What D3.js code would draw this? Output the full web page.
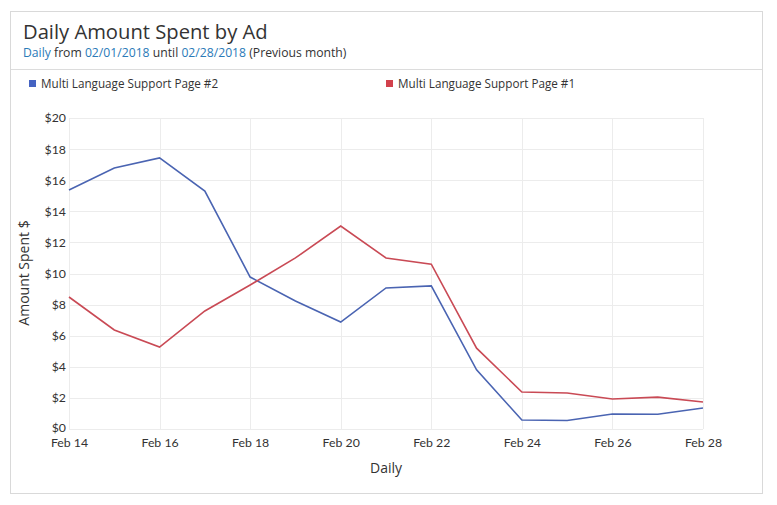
<!DOCTYPE html>
<html><head><meta charset="utf-8">
<script src="https://cdn.jsdelivr.net/npm/d3@7"></script>
<style>
body{margin:0;background:#fff;}
svg{display:block;}
</style></head>
<body>
<svg id="chart" width="777" height="505"></svg>
<script>
const days = ["2018-02-14","2018-02-15","2018-02-16","2018-02-17","2018-02-18","2018-02-19","2018-02-20","2018-02-21","2018-02-22","2018-02-23","2018-02-24","2018-02-25","2018-02-26","2018-02-27","2018-02-28"];
const page2 = [15.37,16.78,17.43,15.3,9.77,8.23,6.88,9.07,9.2,3.8,0.58,0.55,0.96,0.95,1.35];
const page1 = [8.49,6.37,5.27,7.59,9.26,11.0,13.05,11.0,10.6,5.2,2.38,2.32,1.93,2.05,1.74];
const seriesNames = ["Multi Language Support Page #2","Multi Language Support Page #1"];
const yTicks = [0,2,4,6,8,10,12,14,16,18,20];
const xTickDays = ["2018-02-14","2018-02-16","2018-02-18","2018-02-20","2018-02-22","2018-02-24","2018-02-26","2018-02-28"];

const colors = ["#4a64b2","#c94a55"];
const legendColors = ["#4563c2","#d2414c"];
const parse = d3.timeParse("%Y-%m-%d");
const svg = d3.select("#chart");

// card
svg.append("rect").attr("x",10.5).attr("y",11.5).attr("width",752).attr("height",482)
  .attr("fill","#fff").attr("stroke","#d9d9d9");
svg.append("line").attr("x1",11).attr("x2",762).attr("y1",69.5).attr("y2",69.5).attr("stroke","#dcdcdc");

svg.append("text").attr("x",23).attr("y",39).attr("font-family","Open Sans").attr("font-size",20.2)
  .attr("fill","#333").text("Daily Amount Spent by Ad");
const sub = svg.append("text").attr("x",23).attr("y",57).attr("font-family","Open Sans").attr("font-size",12.2).attr("fill","#333");
sub.append("tspan").attr("fill","#2a7ab8").text("Daily");
sub.append("tspan").text(" from ");
sub.append("tspan").attr("fill","#2a7ab8").text("02/01/2018");
sub.append("tspan").text(" until ");
sub.append("tspan").attr("fill","#2a7ab8").text("02/28/2018");
sub.append("tspan").text(" (Previous month)");

// legend
const legendX = [29,386];
seriesNames.forEach((n,i)=>{
  svg.append("rect").attr("x",legendX[i]).attr("y",80).attr("width",7).attr("height",7).attr("fill",legendColors[i]);
  svg.append("text").attr("x",legendX[i]+12).attr("y",88).attr("font-family","Open Sans").attr("font-size",11.7)
    .attr("fill","#333").text(n);
});

const x = d3.scaleTime().domain([parse(days[0]),parse(days[days.length-1])]).range([69,703]);
const y = d3.scaleLinear().domain([0,20]).range([429,118]);

// grid
svg.append("g").selectAll("line").data(yTicks).join("line")
  .attr("x1",69).attr("x2",703).attr("y1",d=>Math.round(y(d))+0.5).attr("y2",d=>Math.round(y(d))+0.5)
  .attr("stroke","#ececec");
svg.append("g").selectAll("line").data(xTickDays).join("line")
  .attr("y1",118).attr("y2",429).attr("x1",d=>Math.round(x(parse(d)))+0.5).attr("x2",d=>Math.round(x(parse(d)))+0.5)
  .attr("stroke","#ececec");

// axes
const yAxis = d3.axisLeft(y).tickValues(yTicks).tickFormat(d=>"$"+d).tickSize(0).tickPadding(3);
const gy = svg.append("g").attr("transform","translate(69,0)").call(yAxis);
gy.select(".domain").remove();
gy.selectAll("text").attr("font-family","Lato").attr("font-size",12.3).attr("fill","#333");
gy.selectAll(".tick").filter(d=>d===0).select("text").attr("dy","0.2em");

const xAxis = d3.axisBottom(x).tickValues(xTickDays.map(parse)).tickFormat(d3.timeFormat("%b %-d")).tickSize(0).tickPadding(9);
const gx = svg.append("g").attr("transform","translate(0,429)").call(xAxis);
gx.select(".domain").remove();
gx.selectAll("text").attr("font-family","Lato").attr("font-size",12.3).attr("fill","#333");

svg.append("text").attr("x",386).attr("y",473).attr("text-anchor","middle").attr("font-family","Open Sans")
  .attr("font-size",14).attr("fill","#333").text("Daily");
svg.append("text").attr("transform","translate(29,273) rotate(-90)").attr("text-anchor","middle")
  .attr("font-family","Open Sans").attr("font-size",14).attr("fill","#333").text("Amount Spent $");

// lines
const line = d3.line().x((d,i)=>x(parse(days[i]))).y(d=>y(d));
[page2,page1].forEach((s,i)=>{
  svg.append("path").datum(s).attr("d",line).attr("fill","none").attr("stroke",colors[i]).attr("stroke-width",1.6);
});
</script>
</body></html>
